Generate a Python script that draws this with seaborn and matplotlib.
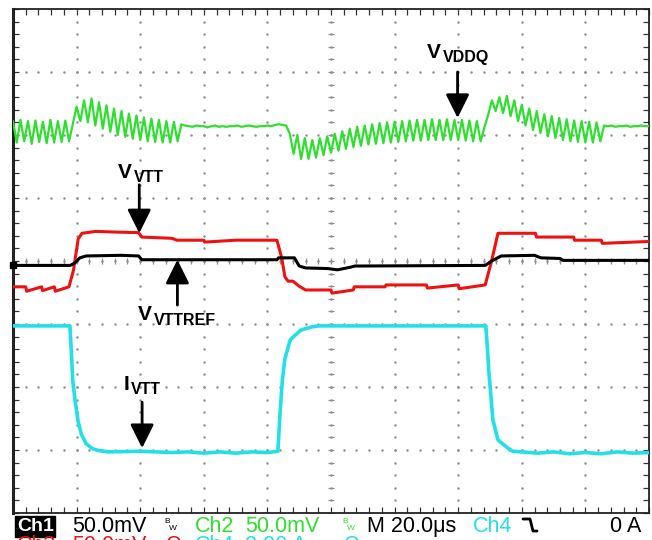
import numpy as np
import pandas as pd
import matplotlib
matplotlib.use("Agg")
import matplotlib.pyplot as plt
from matplotlib.lines import Line2D
import seaborn as sns

# ---------------- data (time in us, amplitude in screen divisions) ----------------
# VDDQ (green) sampled every 200/170 us
green_v = [6.22, 5.88, 6.24, 5.90, 6.22, 5.86, 6.23, 5.89, 6.21, 5.87, 6.24, 5.88, 6.22, 5.89, 6.23, 5.90,
           6.18, 6.45, 6.22, 6.55, 6.20, 6.58, 6.15, 6.52, 6.10, 6.47, 6.05, 6.42, 6.00, 6.38, 5.97, 6.34,
           5.94, 6.31, 5.92, 6.28, 5.90, 6.26, 5.89, 6.24, 5.88, 6.22, 5.88, 6.21, 5.90, 6.17,
           6.15, 6.14, 6.13, 6.15, 6.14, 6.14, 6.12, 6.14, 6.15, 6.13, 6.14, 6.13, 6.14, 6.14, 6.15, 6.13,
           6.14, 6.15, 6.14, 6.13, 6.14, 6.14, 6.15, 6.14, 6.16, 6.17, 6.16, 6.15,
           6.02, 5.70, 6.00, 5.62, 5.95, 5.62, 5.92, 5.64, 5.95, 5.68, 5.98, 5.72, 6.02, 5.75, 6.06, 5.78,
           6.10, 5.81, 6.13, 5.83, 6.15, 5.85, 6.17, 5.86, 6.19, 5.87, 6.20, 5.88, 6.21, 5.89, 6.22, 5.90,
           6.23, 5.91, 6.24, 5.91, 6.24, 5.92, 6.25, 5.92, 6.24, 5.92, 6.25, 5.92, 6.24, 5.92, 6.24, 5.91,
           6.23, 5.90, 6.22, 5.90, 6.12,
           6.32, 6.55, 6.38, 6.60, 6.35, 6.62, 6.30, 6.55, 6.22, 6.48, 6.15, 6.42, 6.08, 6.38, 6.03, 6.33,
           5.98, 6.30, 5.95, 6.27, 5.92, 6.25, 5.90, 6.23, 5.89, 6.22, 5.88, 6.21, 5.88, 6.20, 5.90, 6.15,
           6.14, 6.15, 6.13, 6.14, 6.14, 6.15, 6.13, 6.14, 6.14, 6.15, 6.14, 6.14]
green_dt = 200 / 170

# VTT (red)
red_t = [0, 4, 4.3, 9, 9.3, 13, 13.3, 17.6, 19.0, 20.5, 21.7, 26, 32, 39.5, 40.5, 50, 51.5,
         60, 60.3, 70, 83.0, 84.5, 85.5, 86.5, 88, 90, 92, 100, 100.3, 107, 107.3, 117, 117.3,
         130, 130.3, 140, 140.3, 148.5, 150.5, 152.5, 164.3, 164.6, 176.3, 176.6, 185, 185.3, 200]
red_v = [3.59, 3.59, 3.52, 3.59, 3.53, 3.59, 3.52, 3.59, 3.85, 4.35, 4.44, 4.47, 4.46, 4.45, 4.38, 4.36, 4.33,
         4.33, 4.30, 4.33, 4.33, 4.05, 3.75, 3.68, 3.68, 3.60, 3.54, 3.54, 3.49, 3.54, 3.59, 3.59, 3.62,
         3.62, 3.57, 3.62, 3.56, 3.62, 4.00, 4.44, 4.44, 4.38, 4.38, 4.33, 4.33, 4.28, 4.31]

# VTTREF (black)
black_t = [0, 18.0, 19.5, 21, 23, 34, 39.5, 40.5, 83.0, 83.5, 88.5, 90, 92, 99, 102, 106, 107.5,
           148.5, 150.5, 153.5, 164, 166, 172, 173, 200]
black_v = [3.93, 3.93, 3.97, 4.05, 4.08, 4.09, 4.08, 4.02, 4.02, 4.05, 4.05, 3.92, 3.89, 3.88, 3.86, 3.90, 3.92,
           3.93, 4.00, 4.08, 4.09, 4.05, 4.04, 4.01, 4.01]

# IVTT (cyan)
cyan_t = [0, 17.9, 18.3, 18.8, 19.5, 20.5, 21.5, 23, 25, 27, 30, 40, 50, 55, 60, 65, 70, 75, 80, 83.3,
          84.0, 84.7, 85.5, 87.2, 90.4, 93.6, 96, 120, 148.7, 149.2, 149.6, 150.9, 152.5, 155.6, 157.2,
          160, 165, 170, 175, 180, 185, 190, 195, 200]
cyan_v = [2.97, 2.97, 2.60, 2.10, 1.79, 1.45, 1.25, 1.10, 1.02, 0.99, 0.97, 0.98, 0.96, 0.97, 0.95, 0.97,
          0.95, 0.97, 0.96, 0.98, 1.60, 2.11, 2.45, 2.75, 2.90, 2.95, 2.97, 2.97, 2.97, 2.60, 2.27, 1.48,
          1.16, 1.03, 0.98, 0.97, 0.95, 0.97, 0.94, 0.96, 0.94, 0.97, 0.95, 0.96]

channels = ["IVTT", "VDDQ", "VTT", "VTTREF"]
colors = {"IVTT": "#22E0E6", "VDDQ": "#2EE02E", "VTT": "#EE1111", "VTTREF": "#000000"}
widths = {"IVTT": 2.6, "VDDQ": 1.6, "VTT": 2.2, "VTTREF": 2.2}

status_row1 = [("50.0mV", "black", 72), ("Ch2", "#2EE02E", 195), ("50.0mV", "#2EE02E", 245),
               ("M 20.0\u03bcs", "black", 367), ("Ch4", "#22E0E6", 473), ("0 A", "black", 610)]
status_row2 = [("Ch3", "#EE1111", 17), ("50.0mV", "#EE1111", 72), ("\u03a9", "#EE1111", 165),
               ("Ch4", "#22E0E6", 195), ("2.00 A", "#22E0E6", 245), ("\u03a9", "#22E0E6", 343)]

# ---------------- build frame ----------------
green_t = np.arange(len(green_v)) * green_dt
df = pd.concat([
    pd.DataFrame({"t": cyan_t, "v": cyan_v, "ch": "IVTT"}),
    pd.DataFrame({"t": green_t, "v": green_v, "ch": "VDDQ"}),
    pd.DataFrame({"t": red_t, "v": red_v, "ch": "VTT"}),
    pd.DataFrame({"t": black_t, "v": black_v, "ch": "VTTREF"}),
], ignore_index=True)

sns.set_theme(style="white")
plt.rcParams["font.family"] = ["Liberation Sans", "DejaVu Sans"]

W, H = 652, 540
fig = plt.figure(figsize=(W / 100, H / 100), dpi=100)
fig.patch.set_facecolor("white")
L, R, T, B = 13, 649, 9, 513
ax = fig.add_axes([L / W, 1 - B / H, (R - L) / W, (B - T) / H])
ax.set_facecolor("white")
ax.set_xlim(0, 200)
ax.set_ylim(0, 8)

# dotted graticule
gray = "#909090"
minor_x = np.arange(0, 200.01, 4)
minor_y = np.arange(0, 8.001, 0.2)
for gx in np.arange(20, 200, 20):
    ax.scatter(np.full(minor_y.size, gx), minor_y, s=3.2, color=gray, linewidths=0, zorder=1)
for gy in np.arange(1, 8, 1):
    ax.scatter(minor_x, np.full(minor_x.size, gy), s=3.2, color=gray, linewidths=0, zorder=1)
# centre cross hair ticks
ax.plot(np.full(minor_y.size, 100), minor_y, ls="none", marker="_", ms=4.5, mew=0.9, color=gray, zorder=1)
ax.plot(minor_x, np.full(minor_x.size, 4), ls="none", marker="|", ms=4.5, mew=0.9, color=gray, zorder=1)

# traces
for ch in channels:
    sub = df[df["ch"] == ch]
    sns.lineplot(data=sub, x="t", y="v", estimator=None, sort=False, color=colors[ch],
                 lw=widths[ch], ax=ax, legend=False, zorder=3)

ax.set_xticks(np.arange(0, 200.01, 20))
ax.set_yticks(np.arange(0, 8.01, 1))
ax.set_xticks(minor_x, minor=True)
ax.set_yticks(minor_y, minor=True)
ax.tick_params(which="both", direction="in", top=True, right=True, bottom=True, left=True,
               length=4, width=0.9, color="#333333", labelbottom=False, labelleft=False)
ax.set_xlabel("")
ax.set_ylabel("")
for s in ax.spines.values():
    s.set_visible(True)
    s.set_color("#222222")
    s.set_linewidth(1.3)
ax.spines["left"].set_linewidth(2.2)

# ground marker for black channel
ax.plot([0], [black_v[0]], marker="s", ms=4, color="black", clip_on=False, zorder=5,
        transform=ax.transData)

# ---------------- annotations ----------------
def fx(x):
    return x / W

def fy(y):
    return 1 - y / H

big = dict(fontsize=15, fontweight="bold", color="black", va="baseline", ha="left")
small = dict(fontsize=11.5, fontweight="bold", color="black", va="baseline", ha="left")
fig.text(fx(427), fy(58), "V", **big)
fig.text(fx(443), fy(62), "VDDQ", **small)
fig.text(fx(118), fy(178), "V", **big)
fig.text(fx(134), fy(182), "VTT", **small)
fig.text(fx(138), fy(320), "V", **big)
fig.text(fx(154), fy(325), "VTTREF", **small)
fig.text(fx(124), fy(390), "I", **big)
fig.text(fx(131), fy(394), "VTT", **small)

arrow = dict(arrowstyle="-|>,head_length=1.45,head_width=0.72", lw=2, color="black",
             shrinkA=0, shrinkB=0, mutation_scale=10)
ax.annotate("", xy=(139.8, 6.27), xytext=(139.8, 7.0), arrowprops=arrow, zorder=6)
ax.annotate("", xy=(39.7, 4.44), xytext=(39.7, 5.21), arrowprops=arrow, zorder=6)
ax.annotate("", xy=(51.7, 4.02), xytext=(51.7, 3.30), arrowprops=arrow, zorder=6)
ax.annotate("", xy=(40.6, 1.03), xytext=(40.6, 1.76), arrowprops=arrow, zorder=6)

# ---------------- status bar ----------------
st = dict(fontsize=15.5, va="baseline", ha="left")
fig.text(fx(17), fy(531), "Ch1", color="white", fontsize=14, fontweight="bold", va="baseline", ha="left",
         bbox=dict(boxstyle="square,pad=0.08", fc="black", ec="black"))
for txt, col, x in status_row1:
    fig.text(fx(x), fy(532), txt, color=col, **st)
for txt, col, x in status_row2:
    fig.text(fx(x), fy(551), txt, color=col, **st)
# bandwidth-limit glyphs
for x, col in [(164, "black"), (342, "#2EE02E")]:
    fig.text(fx(x), fy(523), "B", color=col, fontsize=6, va="baseline", ha="left")
    fig.text(fx(x + 5), fy(530), "W", color=col, fontsize=6, va="baseline", ha="left")
# falling-edge trigger icon
fig.add_artist(Line2D([fx(523), fx(530), fx(533), fx(537)], [fy(519), fy(519), fy(531), fy(531)],
                      transform=fig.transFigure, color="black", lw=2))

fig.savefig("out.png", dpi=100, facecolor="white")
